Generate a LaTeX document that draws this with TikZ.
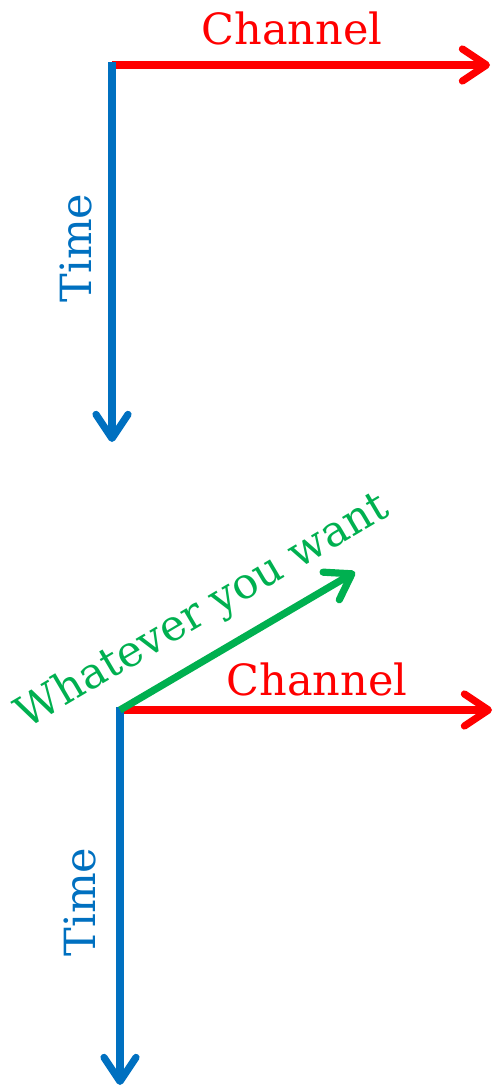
\documentclass[tikz,border=0pt]{standalone}
\usepackage{fontspec}
\setmainfont{DejaVu Serif}
\usetikzlibrary{arrows.meta, positioning}

\definecolor{chanred}{RGB}{255,0,0}
\definecolor{timeblue}{RGB}{0,112,192}
\definecolor{anygreen}{RGB}{0,176,80}

\begin{document}
\begin{tikzpicture}[x=0.5pt, y=-0.5pt, >={Straight Barb[length=12pt, width=16pt, round]},
    axis/.style={->, line width=3.6pt},
    lbl/.style={inner sep=0pt, font=\fontsize{21.5}{24}\selectfont}]
    \useasboundingbox (0,0) rectangle (495,1091);
    % top: channel x time
    \coordinate (o1) at (112,65);
    \coordinate (c1) at (490,65);
    \coordinate (t1) at (112,442);
    \draw[axis, chanred] (o1) -- (c1);
    \draw[axis, timeblue] ([yshift=1.7pt]o1) -- (t1);
    \node (chan1) [lbl, text=chanred] at (292,28) {Channel};
    \node (time1) [lbl, text=timeblue, rotate=90] at (76,248) {Time};
    % bottom: channel x time x whatever
    \coordinate (o2) at (120,710);
    \coordinate (c2) at (492,710);
    \coordinate (t2) at (120,1085);
    \coordinate (w2) at (355,572);
    \draw[axis, chanred] (o2) -- (c2);
    \draw[axis, timeblue] ([yshift=1.7pt]o2) -- (t2);
    \draw[axis, anygreen] (o2) -- (w2);
    \node (chan2) [lbl, text=chanred] at (317,679) {Channel};
    \node (time2) [lbl, text=timeblue, rotate=90] at (80,902) {Time};
    \node (what2) [lbl, text=anygreen, rotate=30.5] at (203,612) {Whatever you want};
\end{tikzpicture}
\end{document}
